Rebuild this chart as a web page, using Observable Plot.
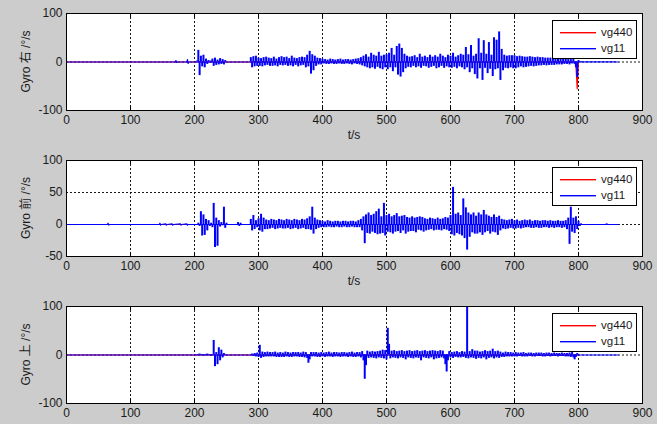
<!DOCTYPE html>
<html>
<head>
<meta charset="utf-8">
<script src="https://cdn.jsdelivr.net/npm/d3@7"></script>
<script src="https://cdn.jsdelivr.net/npm/@observablehq/plot@0.6"></script>
<style>
  html, body { margin: 0; padding: 0; background: #cccccc; }
  #fig { position: relative; width: 657px; height: 424px; background: #cccccc; overflow: hidden;
         font-family: "Liberation Sans", Arial, "Noto Sans CJK SC", sans-serif; }
  #fig svg { position: absolute; left: 0; }
</style>
</head>
<body>
<div id="fig"></div>
<script>
// ---------------- data ----------------
const xTicks = [0, 100, 200, 300, 400, 500, 600, 700, 800, 900];
const xGrid = [100, 200, 300, 400, 500, 600, 700, 800];
const seriesNames = ["vg440", "vg11"];
const seriesColors = ["#ff0000", "#0000ff"];
const yLabels = ["Gyro 右 /°/s", "Gyro 前 /°/s", "Gyro 上 /°/s"];

const sampleStart = 200;  // s, first sample of the dense records
const sampleStep = 2;     // s between samples

// panel 1 (右): quiet lead-in [t, value]
const preRight = [[0,0],[170,0],[171,3],[172,-1],[173,0],[188,0],[189,5],[190,-3],[191,0],[198,0]];
// vg11, 右, samples from 200 s every 2 s
const vg11Right = [
  0,0,2,24,-28,12,-10,14,-12,6,        // 200
  -5,3,-2,2,6,-9,8,-7,4,-6,            // 220
  7,-5,5,-6,3,0,0,0,0,0,               // 240
  0,0,0,0,0,0,0,0,0,0,                 // 260
  0,0,0,0,9,-12,11,-10,12,-9,          // 280
  8,-9,7,-10,9,-8,10,-7,8,-9,          // 300
  7,-9,10,-8,6,-10,9,-7,11,-8,         // 320
  9,-7,10,-9,7,-8,12,-10,8,-7,         // 340
  7,-10,9,-8,10,-7,9,-12,14,-10,       // 360
  22,-25,15,-18,12,-9,8,-6,7,-6,       // 380
  6,-4,5,-5,4,-5,6,-4,5,-5,            // 400
  4,-5,5,-4,6,-5,4,-5,5,-4,            // 420
  5,-5,4,-6,5,-4,6,-5,7,-6,            // 440
  9,-8,12,-10,15,-12,10,-14,18,-12,    // 460
  14,-15,12,-11,20,-14,12,-16,14,-12,  // 480
  15,-16,18,-12,28,-20,14,-12,32,-27,  // 500
  37,-31,28,-22,16,-14,12,-11,10,-12,  // 520
  11,-9,13,-12,9,-10,16,-13,10,-9,     // 540
  12,-10,9,-13,14,-11,10,-9,13,-14,    // 560
  10,-12,16,-9,12,-13,9,-10,14,-12,    // 580
  12,-13,18,-11,10,-14,13,-10,16,-12,  // 600
  14,-16,30,-12,15,-22,34,-14,12,-26,  // 620
  16,-35,48,-14,18,-38,44,-13,16,-24,  // 640
  40,-15,14,-30,50,-16,45,-14,62,-38,  // 660
  26,-18,14,-13,12,-14,13,-12,13,-14,  // 680
  13,-14,11,-12,12,-10,11,-12,10,-11,  // 700
  10,-10,11,-9,10,-10,9,-9,10,-8,      // 720
  9,-8,9,-7,8,-8,8,-7,8,-7,            // 740
  7,-7,7,-6,7,-6,6,-6,6,-5,            // 760
  6,-5,5,-6,5,-4,6,-5,-12,-32,         // 780
  3,-1,1,-1,1,0,1,-1,1,0,              // 800
  1,-1,0,1,-1,0,1,-1,0,1,              // 820
  -1,0,1,-1,0,1,-1,0,1,0,              // 840
  0,0                                  // 860
];
const vg440Right = [[0,0],[794,0],[796,-8],[798,-55],[799,-20],[800,0]];

// panel 2 (前)
const preFront = [[0,0],[64,0],[65,2],[66,-1],[67,0],[145,0],[146,2],[147,-1],[148,0],[155,1],[156,-1],[157,0],
                  [165,1],[166,-1],[167,0],[178,1],[179,-1],[180,0],[188,1],[189,-1],[190,0],[198,0]];
const vg11Front = [
  0,0,0,2,-3,20,-18,15,-17,8,          // 200
  -10,6,-3,2,-5,33,-36,10,-34,6,       // 220
  -4,3,-2,27,-6,2,-1,0,0,0,            // 240
  0,0,0,0,3,-3,2,0,0,0,                // 260
  0,0,0,0,8,-10,14,-8,6,-5,            // 280
  9,-10,16,-12,10,-8,7,-8,6,-7,        // 300
  8,-6,7,-8,6,-7,8,-6,7,-7,            // 320
  6,-7,8,-6,7,-8,6,-7,8,-6,            // 340
  7,-8,6,-7,8,-6,7,-8,9,-8,            // 360
  12,-9,27,-15,10,-8,7,-6,6,-5,        // 380
  5,-5,4,-5,6,-4,5,-5,4,-5,            // 400
  5,-4,5,-5,4,-5,5,-4,5,-5,            // 420
  4,-5,5,-4,5,-5,4,-5,6,-5,            // 440
  8,-10,12,-30,15,-14,18,-15,14,-12,   // 460
  16,-14,20,-16,24,-15,12,-14,33,-18,  // 480
  14,-12,16,-13,12,-15,14,-12,17,-11,  // 500
  12,-14,13,-10,14,-15,11,-12,10,-11,  // 520
  12,-11,10,-13,11,-9,12,-10,11,-12,   // 540
  9,-10,8,-9,10,-8,9,-10,8,-9,         // 560
  10,-9,8,-10,9,-8,11,-9,10,-11,       // 580
  14,-16,58,-18,16,-14,18,-16,14,-18,  // 600
  40,-22,26,-40,18,-20,15,-13,18,-15,  // 620
  13,-15,18,-13,15,-17,22,-13,15,-11,  // 640
  13,-15,11,-12,15,-13,11,-17,13,-10,  // 660
  8,-7,7,-8,6,-7,7,-6,8,-7,            // 680
  6,-7,7,-6,5,-7,6,-6,7,-5,            // 700
  6,-5,7,-6,5,-6,6,-5,6,-6,            // 720
  5,-6,6,-5,6,-5,5,-6,6,-5,            // 740
  5,-6,5,-5,6,-5,5,-6,5,-5,            // 760
  6,-8,10,-31,27,-12,10,-14,12,-8,     // 780
  5,-3,1,-1,0,0,0,0,0,0,               // 800
  0,0,0,0,0,0,0,0,0,0,                 // 820
  0,0,1,-1,0,0,0,0,0,0,                // 840
  0,0                                  // 860
];
const vg440Front = [[0,0],[800,0]];

// panel 3 (上)
const preUp = [[0,0],[198,0]];
const vg11Up = [
  0,0,1,-1,2,-1,1,-2,1,-1,             // 200
  2,-1,1,-2,1,30,-24,5,-20,15,         // 220
  -12,10,-6,3,-1,0,0,0,0,0,            // 240
  0,0,0,0,0,0,0,0,0,0,                 // 260
  0,0,0,0,0,2,-3,3,-4,4,               // 280
  -5,20,-7,6,-5,5,-4,6,-4,5,           // 300
  -4,5,-4,6,-5,4,-5,5,-5,4,            // 320
  -5,6,-4,5,-5,4,-5,5,-4,5,            // 340
  -4,5,-5,4,-5,6,-6,5,-7,-17,          // 360
  -10,5,-4,5,-4,5,-5,4,-5,5,           // 380
  -4,4,-5,5,-4,6,-4,4,-5,5,            // 400
  -4,5,-4,4,-5,5,-4,5,-4,4,            // 420
  -5,5,-4,6,-5,4,-5,5,-4,5,            // 440
  -6,7,-12,-50,-22,8,-7,6,-6,7,        // 460
  -7,6,-8,7,-6,8,-7,10,-8,9,           // 480
  -10,55,22,-8,8,-6,9,-7,7,-8,         // 500
  8,-6,9,-7,7,-10,8,-6,9,-7,           // 520
  7,-8,8,-6,9,-7,7,-12,8,-6,           // 540
  9,-7,7,-8,8,-6,9,-10,8,-8,           // 560
  7,-7,9,-6,8,-8,-20,-35,-12,7,        // 580
  -6,5,-7,6,-5,7,-6,5,-6,7,            // 600
  -5,6,-7,100,-8,7,-6,11,-7,8,         // 620
  -9,8,-7,6,-8,7,-6,9,-10,7,           // 640
  -7,8,-6,12,-8,7,-6,8,-7,6,           // 660
  -5,4,-5,6,-4,5,-4,5,-4,4,            // 680
  -4,5,-4,4,-3,4,-4,5,-4,3,            // 700
  -4,4,-3,4,-4,3,-4,4,-3,4,            // 720
  -3,4,-4,3,-4,4,-3,4,-4,3,            // 740
  -3,4,-3,3,-4,3,-3,4,-3,3,            // 760
  -4,3,-4,4,-5,5,-6,-10,-5,3,          // 780
  1,0,0,0,0,0,0,0,0,0,                 // 800
  0,0,0,0,0,0,0,0,0,0,                 // 820
  0,0,0,0,0,0,0,0,0,0,                 // 840
  0,0                                  // 860
];
const vg440Up = [[0,0],[800,0]];

const yDomains = [[-100, 100], [-50, 100], [-100, 100]];
const yTickSets = [[-100, 0, 100], [-50, 0, 50, 100], [-100, 0, 100]];
const yGridSets = [[0], [0, 50], [0]];

// ---------------- build ----------------
const toRows = (pairs) => pairs.map(([t, v]) => ({t, v}));
const denseRows = (vals) => vals.map((v, i) => ({t: sampleStart + sampleStep * i, v}));
const baseRows = (pre, vals) => toRows(pre).concat([{t: sampleStart + sampleStep * (vals.length - 1), v: 0}]);

const panels = [
  {pre: preRight, vals: vg11Right, red: vg440Right, top: 0,   mt: 13, mb: 36, h: 146, xlab: true,  legendTop: 20},
  {pre: preFront, vals: vg11Front, red: vg440Front, top: 146, mt: 14, mb: 34, h: 144, xlab: true,  legendTop: 21},
  {pre: preUp,    vals: vg11Up,    red: vg440Up,    top: 290, mt: 16, mb: 21, h: 134, xlab: false, legendTop: 23}
];

const fig = document.getElementById("fig");
const fmt = d => String(d);
const textColor = "#1a1a1a";

panels.forEach((p, k) => {
  const ph = p.h - p.mt - p.mb;
  const svg = Plot.plot({
    width: 657, height: p.h,
    marginLeft: 66, marginRight: 15, marginTop: p.mt, marginBottom: p.mb,
    style: {background: "transparent", fontFamily: "'Liberation Sans', Arial, sans-serif", fontSize: "12px", color: textColor, overflow: "visible"},
    x: {domain: [0, 900]},
    y: {domain: yDomains[k]},
    marks: [
      Plot.frame({fill: "white", stroke: null}),
      Plot.gridX(xGrid, {stroke: "black", strokeOpacity: 0.9, strokeDasharray: "2,2"}),
      Plot.gridY(yGridSets[k], {stroke: "black", strokeOpacity: 0.9, strokeDasharray: "2,2"}),
      Plot.line(toRows(p.red), {x: "t", y: "v", stroke: seriesColors[0], strokeWidth: 1.2}),
      Plot.line(baseRows(p.pre, p.vals), {x: "t", y: "v", stroke: seriesColors[1], strokeWidth: 1.2}),
      Plot.ruleX(denseRows(p.vals), {x: "t", y1: () => 0, y2: "v", stroke: seriesColors[1], strokeWidth: 2}),
      Plot.tickX(xTicks, {x: d => d, stroke: "black", insetTop: ph - 4}),
      Plot.tickX(xTicks, {x: d => d, stroke: "black", insetBottom: ph - 4}),
      Plot.frame({stroke: "black", strokeWidth: 1}),
      Plot.axisX(xTicks, {tickSize: 0, tickPadding: 5, tickFormat: fmt, label: null}),
      Plot.axisY(yTickSets[k], {tickSize: 0, tickPadding: 4, tickFormat: fmt, label: null})
    ]
  });
  svg.style.top = p.top + "px";
  const s = d3.select(svg);
  s.append("text")
    .attr("transform", `translate(30,${p.mt + ph / 2}) rotate(-90)`)
    .attr("text-anchor", "middle")
    .attr("fill", textColor)
    .style("font-family", "'Liberation Sans', Arial, 'Noto Sans CJK SC', sans-serif")
    .style("font-size", "12px")
    .text(yLabels[k]);
  if (p.xlab) {
    s.append("text")
      .attr("x", 354).attr("y", p.mt + ph + 29)
      .attr("text-anchor", "middle")
      .attr("fill", textColor)
      .style("font-size", "12px")
      .text("t/s");
  }
  // legend
  const lg = s.append("g").attr("transform", `translate(552,${p.legendTop})`);
  lg.append("rect").attr("x", 0.5).attr("y", 0.5).attr("width", 84).attr("height", 38)
    .attr("fill", "white").attr("stroke", "black");
  seriesNames.forEach((name, i) => {
    const yy = 12 + i * 16;
    lg.append("rect").attr("x", 8).attr("y", yy).attr("width", 36).attr("height", 1.4)
      .attr("fill", seriesColors[i]).attr("stroke", "none");
    lg.append("text").attr("x", 49).attr("y", yy + 4).attr("fill", textColor)
      .attr("text-anchor", "start")
      .style("font-size", "11.5px").text(name);
  });
  fig.appendChild(svg);
});
</script>
</body>
</html>
